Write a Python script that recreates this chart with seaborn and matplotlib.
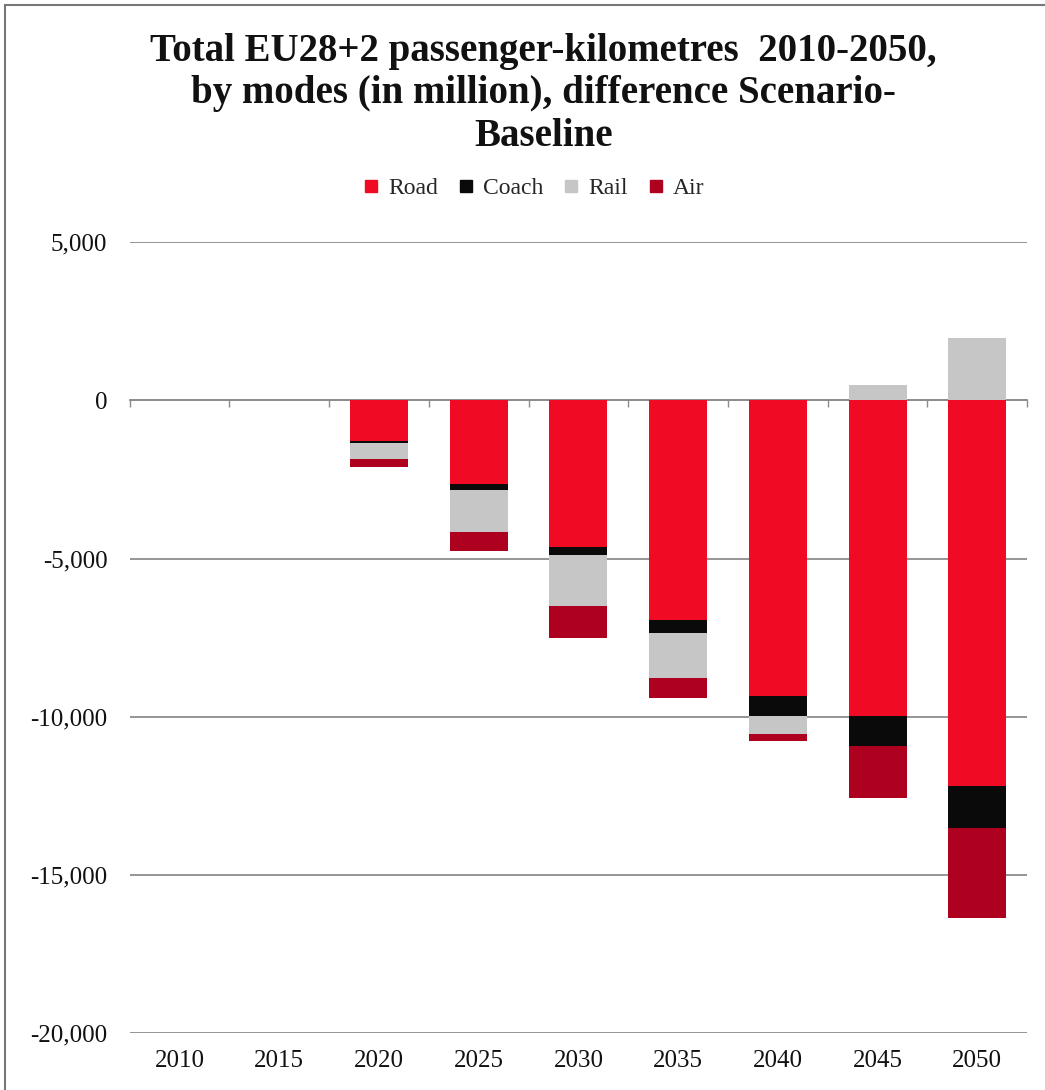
import matplotlib
matplotlib.use("Agg")
import matplotlib.pyplot as plt
import matplotlib.patches as mpatches
from matplotlib.lines import Line2D
import numpy as np
import pandas as pd
import seaborn as sns

# Difference Scenario - Baseline, passenger-km in million
years = ["2010", "2015", "2020", "2025", "2030", "2035", "2040", "2045", "2050"]
road = [0, 0, -1300, -2660, -4650, -6930, -9340, -9970, -12180]
coach = [0, 0, -50, -160, -250, -410, -630, -950, -1330]
rail = [0, 0, -500, -1330, -1590, -1430, -560, 470, 1960]
air = [0, 0, -270, -600, -1010, -630, -220, -1640, -2850]

modes = ["Road", "Coach", "Rail", "Air"]
colors = {"Road": "#F00A24", "Coach": "#0A0A0A", "Rail": "#C6C6C6", "Air": "#AE001F"}

sns.set_theme(style="white")
plt.rcParams["font.family"] = ["Liberation Serif", "DejaVu Serif"]

fig = plt.figure(figsize=(10.45, 10.9), dpi=100)
ax = fig.add_axes([0.124, 0.052, 0.859, 0.726])

df = pd.DataFrame({"year": years, "Road": road, "Coach": coach, "Rail": rail, "Air": air})

# Stack negative parts downwards, positive parts upwards
neg = df[modes].clip(upper=0).cumsum(axis=1)
pos = df[modes].clip(lower=0).cumsum(axis=1)

width = 0.58
# draw deepest cumulative first so shallower layers sit on top
for m in reversed(modes):
    sns.barplot(x=df["year"], y=neg[m], color=colors[m], width=width,
                saturation=1, ax=ax, order=years, linewidth=0, errorbar=None)
for m in reversed(modes):
    if (df[m] > 0).any():
        sns.barplot(x=df["year"], y=pos[m], color=colors[m], width=width,
                    saturation=1, ax=ax, order=years, linewidth=0, errorbar=None)

ax.set_xlim(-0.5, len(years) - 0.5)
ax.set_ylim(-20000, 5000)
ax.set_yticks(np.arange(-20000, 5001, 5000))
ax.yaxis.set_major_formatter(matplotlib.ticker.FuncFormatter(lambda v, p: f"{int(v):,}"))
ax.yaxis.grid(True, color="#8c8c8c", linewidth=1.3)
ax.set_axisbelow(True)
for s in ax.spines.values():
    s.set_visible(False)
ax.set_xlabel("")
ax.set_ylabel("")
ax.tick_params(axis="both", length=0, labelsize=18, colors="#111111")
ax.tick_params(axis="y", pad=16)
ax.tick_params(axis="x", pad=12)

# zero axis line with category tick marks
zero = ax.secondary_xaxis((0 - (-20000)) / 25000)
zero.spines["top"].set_color("#8c8c8c")
zero.spines["top"].set_linewidth(1.3)
zero.spines["bottom"].set_color("#8c8c8c")
zero.spines["bottom"].set_linewidth(1.3)
zero.set_xticks(np.arange(-0.5, len(years), 1.0))
zero.set_xticklabels([])
zero.tick_params(axis="x", length=5, width=1, colors="#8c8c8c", direction="in")

# legend
handles = [Line2D([0], [0], marker="s", linestyle="", markersize=9,
                  markerfacecolor=colors[m], markeredgecolor=colors[m], label=m)
           for m in modes]
fig.legend(handles=handles, loc="center", bbox_to_anchor=(0.51, 0.827), ncol=4,
           frameon=False, fontsize=17, handlelength=0.8, handletextpad=0.3,
           columnspacing=0.8)

fig.text(0.52, 0.914,
         "Total EU28+2 passenger-kilometres  2010-2050,\nby modes (in million), difference Scenario-\nBaseline",
         ha="center", va="center", fontsize=28, fontweight="bold", linespacing=1.2,
         color="#111111")

# outer frame
fig.patches.append(mpatches.Rectangle((0.005, -0.01), 1.2, 1.005, transform=fig.transFigure,
                                      fill=False, edgecolor="#777777", linewidth=1.5))

fig.savefig("out.png", dpi=100, facecolor="white")
